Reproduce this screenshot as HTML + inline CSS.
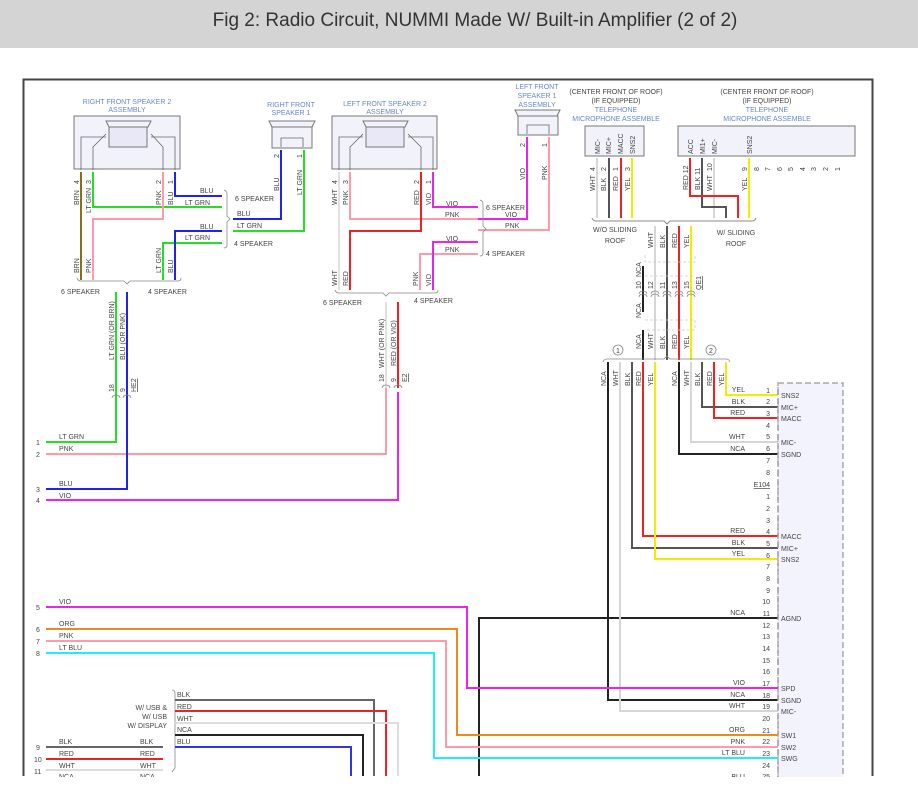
<!DOCTYPE html>
<html><head><meta charset="utf-8"><style>
body{margin:0;background:#fff;}
svg{display:block;font-family:"Liberation Sans",sans-serif;}
.t{font-size:7px;fill:#444;}
.b{font-size:7px;fill:#6a86c8;}
.w{fill:none;stroke-width:2;}
</style></head><body>
<svg width="918" height="808" viewBox="0 0 918 808">
<rect x="0" y="0" width="918" height="48" fill="#d4d4d4"/>
<text x="475" y="26" font-size="19" fill="#333" text-anchor="middle">Fig 2: Radio Circuit, NUMMI Made W/ Built-in Amplifier (2 of 2)</text>
<path d="M23.5 776V79.5H872.5V776" fill="none" stroke="#444" stroke-width="2"/>

<text class="b" x="127" y="104" text-anchor="middle">RIGHT FRONT SPEAKER 2</text>
<text class="b" x="127" y="112" text-anchor="middle">ASSEMBLY</text>
<rect x="74" y="116" width="106" height="53" fill="#f2f2fb" stroke="#777"/>
<path d="M106 121H151L148 127H109Z" fill="#f2f2fb" stroke="#777"/>
<rect x="109" y="127" width="38" height="20" fill="#e8e8f6" stroke="#777"/>
<path d="M81 170V137H106M93 170V147L106 134M163 170V147L151 134M175 170V137H151" fill="none" stroke="#666" stroke-width=".8"/>
<text class="b" x="385" y="106" text-anchor="middle">LEFT FRONT SPEAKER 2</text>
<text class="b" x="385" y="114" text-anchor="middle">ASSEMBLY</text>
<rect x="332" y="116" width="105" height="53" fill="#f2f2fb" stroke="#777"/>
<path d="M363 121H408L405 127H366Z" fill="#f2f2fb" stroke="#777"/>
<rect x="366" y="127" width="38" height="20" fill="#e8e8f6" stroke="#777"/>
<path d="M339 170V137H363M350 170V147L363 134M421 170V147L408 134M433 170V137H408" fill="none" stroke="#666" stroke-width=".8"/>
<text class="b" x="291" y="107" text-anchor="middle">RIGHT FRONT</text>
<text class="b" x="291" y="115" text-anchor="middle">SPEAKER 1</text>
<path d="M269 121H315L312 127H272Z" fill="#f2f2fb" stroke="#777"/>
<rect x="272" y="127" width="40" height="21" fill="#f2f2fb" stroke="#777"/>
<path d="M281 147V138H303V147" fill="none" stroke="#666" stroke-width=".8"/>
<text class="b" x="537" y="89" text-anchor="middle">LEFT FRONT</text>
<text class="b" x="537" y="98" text-anchor="middle">SPEAKER 1</text>
<text class="b" x="537" y="107" text-anchor="middle">ASSEMBLY</text>
<path d="M515 110H560L557 116H518Z" fill="#f2f2fb" stroke="#777"/>
<rect x="518" y="116" width="40" height="19" fill="#f2f2fb" stroke="#777"/>
<path d="M527 134V125H549V134" fill="none" stroke="#666" stroke-width=".8"/>

<g class="t" text-anchor="middle">
<text x="616" y="94">(CENTER FRONT OF ROOF)</text><text x="616" y="103">(IF EQUIPPED)</text>
<text x="767" y="94">(CENTER FRONT OF ROOF)</text><text x="767" y="103">(IF EQUIPPED)</text>
</g>
<g class="b" text-anchor="middle">
<text x="616" y="112">TELEPHONE</text><text x="616" y="121">MICROPHONE ASSEMBLE</text>
<text x="767" y="112">TELEPHONE</text><text x="767" y="121">MICROPHONE ASSEMBLE</text>
</g>
<rect x="585" y="126" width="59" height="30" fill="#f2f2fb" stroke="#777"/>
<rect x="678" y="126" width="177" height="30" fill="#f2f2fb" stroke="#777"/>
<g class="t" font-size="6">
<text transform="translate(600,154) rotate(-90)">MIC-</text>
<text transform="translate(611,154) rotate(-90)">MIC+</text>
<text transform="translate(623,154) rotate(-90)">MACC</text>
<text transform="translate(635,154) rotate(-90)">SNS2</text>
<text transform="translate(693,154) rotate(-90)">ACC</text>
<text transform="translate(705,154) rotate(-90)">MI1+</text>
<text transform="translate(717,154) rotate(-90)">MIC-</text>
<text transform="translate(752,154) rotate(-90)">SNS2</text>
<text transform="translate(595,171) rotate(-90)">4</text><text transform="translate(606,171) rotate(-90)">2</text>
<text transform="translate(618,171) rotate(-90)">1</text><text transform="translate(630,171) rotate(-90)">3</text>
<text transform="translate(688,190) rotate(-90)">RED 12</text><text transform="translate(700,190) rotate(-90)">BLK 11</text>
<text transform="translate(712,171) rotate(-90)">10</text><text transform="translate(747,171) rotate(-90)">9</text>
<text transform="translate(759,171) rotate(-90)">8</text><text transform="translate(770,171) rotate(-90)">7</text>
<text transform="translate(782,171) rotate(-90)">6</text><text transform="translate(793,171) rotate(-90)">5</text>
<text transform="translate(805,171) rotate(-90)">4</text><text transform="translate(816,171) rotate(-90)">3</text>
<text transform="translate(828,171) rotate(-90)">2</text><text transform="translate(840,171) rotate(-90)">1</text>
<text transform="translate(595,191) rotate(-90)">WHT</text><text transform="translate(606,191) rotate(-90)">BLK</text>
<text transform="translate(618,191) rotate(-90)">RED</text><text transform="translate(630,191) rotate(-90)">YEL</text>
<text transform="translate(712,191) rotate(-90)">WHT</text><text transform="translate(747,191) rotate(-90)">YEL</text>
</g>

<path class="w" stroke="#d6d6d6" d="M597 158V218M714 158V218"/>
<path class="w" stroke="#555" d="M609 158V218M702 158V207H726V218"/>
<path class="w" stroke="#ee2222" d="M621 158V218M690 158V196H738V218"/>
<path class="w" stroke="#eeee00" d="M632 158V218M749 158V218"/>
<path d="M592 218Q593 221 596 221H664L667 224L670 221H752Q755 221 756 218" fill="none" stroke="#888" stroke-width="1"/>
<g class="t" text-anchor="middle"><text x="615" y="232">W/O SLIDING</text><text x="615" y="243">ROOF</text>
<text x="736" y="235">W/ SLIDING</text><text x="736" y="246">ROOF</text></g>
<path class="w" stroke="#d6d6d6" d="M655 226V360"/>
<path class="w" stroke="#555" d="M667 226V360"/>
<path class="w" stroke="#ee2222" d="M679 226V360"/>
<path class="w" stroke="#eeee00" d="M691 226V360"/>
<path d="M643 266V312" stroke="#222" stroke-width="2"/>
<path d="M643 330V360" stroke="#222" stroke-width="2"/>
<path d="M645 255V262H695V255M645 276H695M645 320H695V330H645" fill="none" stroke="#ccc" stroke-width=".8" stroke-dasharray="3 2"/>
<g class="t" font-size="6">
<text transform="translate(653,248) rotate(-90)">WHT</text><text transform="translate(665,248) rotate(-90)">BLK</text>
<text transform="translate(677,248) rotate(-90)">RED</text><text transform="translate(689,248) rotate(-90)">YEL</text>
<text transform="translate(641,277) rotate(-90)">NCA</text><text transform="translate(641,318) rotate(-90)">NCA</text>
<text transform="translate(641,289) rotate(-90)">10</text><text transform="translate(653,289) rotate(-90)">12</text>
<text transform="translate(665,289) rotate(-90)">11</text><text transform="translate(677,289) rotate(-90)">13</text>
<text transform="translate(689,289) rotate(-90)">15</text><text transform="translate(701,290) rotate(-90)" text-decoration="underline">QE1</text>
<text transform="translate(641,349) rotate(-90)">NCA</text><text transform="translate(653,349) rotate(-90)">WHT</text>
<text transform="translate(665,349) rotate(-90)">BLK</text><text transform="translate(677,349) rotate(-90)">RED</text>
<text transform="translate(689,349) rotate(-90)">YEL</text>
</g>
<g fill="none" stroke="#888" stroke-width=".8">
<path d="M639 294a4 3 0 0 1 8 0M651 294a4 3 0 0 1 8 0M663 294a4 3 0 0 1 8 0M675 294a4 3 0 0 1 8 0M687 294a4 3 0 0 1 8 0"/>
<path d="M639 297a4 3 0 0 1 8 0M651 297a4 3 0 0 1 8 0M663 297a4 3 0 0 1 8 0M675 297a4 3 0 0 1 8 0M687 297a4 3 0 0 1 8 0"/>
<circle cx="618" cy="350" r="5"/><circle cx="711" cy="350" r="5"/>
<path d="M603 362Q604 359 607 359H664L667 356L670 359H726Q729 359 730 362"/>
</g>
<text x="618" y="353" font-size="7" text-anchor="middle" fill="#444">1</text>
<text x="711" y="353" font-size="7" text-anchor="middle" fill="#444">2</text>

<path class="w" stroke="#222" d="M608 362V700H778M679 362V454H778M479 776V618H778"/>
<path class="w" stroke="#d6d6d6" d="M620 362V711H778M691 362V442H778"/>
<path class="w" stroke="#555" d="M632 362V548H778M702 362V407H778"/>
<path class="w" stroke="#ee2222" d="M643 362V536H778M714 362V418H778"/>
<path class="w" stroke="#eeee00" d="M655 362V559H778M726 362V395H778"/>
<g class="t" font-size="6">
<text transform="translate(606,386) rotate(-90)">NCA</text><text transform="translate(618,386) rotate(-90)">WHT</text>
<text transform="translate(630,386) rotate(-90)">BLK</text><text transform="translate(641,386) rotate(-90)">RED</text>
<text transform="translate(653,386) rotate(-90)">YEL</text>
<text transform="translate(677,386) rotate(-90)">NCA</text><text transform="translate(689,386) rotate(-90)">WHT</text>
<text transform="translate(700,386) rotate(-90)">BLK</text><text transform="translate(712,386) rotate(-90)">RED</text>
<text transform="translate(724,386) rotate(-90)">YEL</text>
</g>

<rect x="778" y="383" width="65" height="400" fill="#f3f3fd" stroke="#aaa" stroke-width="1.5" stroke-dasharray="6 3"/>
<g class="t" text-anchor="end" font-size="6.5">
<text x="770" y="393">1</text><text x="770" y="404">2</text><text x="770" y="416">3</text><text x="770" y="428">4</text>
<text x="770" y="439">5</text><text x="770" y="451">6</text><text x="770" y="463">7</text><text x="770" y="475">8</text>
<text x="770" y="487" text-decoration="underline">E104</text>
<text x="770" y="499">1</text><text x="770" y="511">2</text><text x="770" y="523">3</text><text x="770" y="534">4</text>
<text x="770" y="546">5</text><text x="770" y="558">6</text><text x="770" y="569">7</text><text x="770" y="581">8</text>
<text x="770" y="593">9</text><text x="770" y="604">10</text><text x="770" y="616">11</text><text x="770" y="628">12</text>
<text x="770" y="639">13</text><text x="770" y="651">14</text><text x="770" y="663">15</text><text x="770" y="674">16</text>
<text x="770" y="686">17</text><text x="770" y="698">18</text><text x="770" y="709">19</text><text x="770" y="721">20</text>
<text x="770" y="733">21</text><text x="770" y="744">22</text><text x="770" y="756">23</text><text x="770" y="768">24</text>
<text x="770" y="779">25</text>
<text x="745" y="392">YEL</text><text x="745" y="404">BLK</text><text x="745" y="415">RED</text>
<text x="745" y="439">WHT</text><text x="745" y="451">NCA</text>
<text x="745" y="533">RED</text><text x="745" y="545">BLK</text><text x="745" y="556">YEL</text>
<text x="745" y="615">NCA</text><text x="745" y="685">VIO</text><text x="745" y="697">NCA</text>
<text x="745" y="708">WHT</text><text x="745" y="732">ORG</text><text x="745" y="744">PNK</text>
<text x="745" y="755">LT BLU</text><text x="745" y="779">BLU</text>
</g>
<g class="t" font-size="6.5">
<text x="781" y="398">SNS2</text><text x="781" y="410">MIC+</text><text x="781" y="421">MACC</text>
<text x="781" y="445">MIC-</text><text x="781" y="457">SGND</text>
<text x="781" y="539">MACC</text><text x="781" y="551">MIC+</text><text x="781" y="562">SNS2</text>
<text x="781" y="621">AGND</text><text x="781" y="691">SPD</text><text x="781" y="703">SGND</text>
<text x="781" y="714">MIC-</text><text x="781" y="738">SW1</text><text x="781" y="750">SW2</text><text x="781" y="761">SWG</text>
</g>
<g fill="none" stroke="#888" stroke-width=".8">
<path d="M778 387v8M778 399v8M778 410v8M778 422v8M778 434v8M778 446v8M778 457v8M778 469v8M778 481v8M778 493v8M778 505v8M778 517v8M778 528v8M778 540v8M778 552v8M778 563v8M778 575v8M778 587v8M778 598v8M778 610v8M778 622v8M778 633v8M778 645v8M778 657v8M778 668v8M778 680v8M778 692v8M778 703v8M778 715v8M778 727v8M778 738v8M778 750v8M778 762v8M778 773v8"/>
</g>

<path class="w" stroke="#8b6d1a" d="M81 172V280"/>
<path class="w" stroke="#22e022" d="M93 172V207H222M163 280V243H222M233 231H304V150M116 292V442H46"/>
<path class="w" stroke="#ff9aaa" d="M163 172V219H93V280M386 388V454H46"/>
<path class="w" stroke="#2222ee" d="M175 172V196H222M175 280V231H222M233 219H281V150M127 292V489H46"/>
<path class="w" stroke="#e0e0e0" d="M339 172V290M386 302V388"/>
<path class="w" stroke="#ff9aaa" d="M350 172V219H478M420 290V254H478M549 137V230H478"/>
<path class="w" stroke="#ee2222" d="M421 172V231H350V290M398 302V388"/>
<path class="w" stroke="#ee22ee" d="M433 172V207H478M433 290V242H478M527 137V219H478M398 392V500H46"/>
<g fill="none" stroke="#888" stroke-width=".8">
<path d="M224 190Q227 191 227 194V216L230 219L227 222V245Q227 248 224 248"/>
<path d="M480 200Q483 201 483 204V226L486 229L483 232V253Q483 256 480 256"/>
<path d="M77 278Q78 281 81 281H124L127 284L130 281H178Q181 281 181 278"/>
<path d="M335 290Q336 293 339 293H383L386 296L389 293H435Q438 293 438 290"/>
<path d="M112 398a4 3 0 0 1 8 0M123 398a4 3 0 0 1 8 0M382 388a4 3 0 0 1 8 0M394 388a4 3 0 0 1 8 0"/>
<path d="M172 690Q175 690 175 693V768L172 772"/>
</g>
<g class="t">
<text x="200" y="193">BLU</text><text x="185" y="205">LT GRN</text><text x="235" y="201">6 SPEAKER</text>
<text x="237" y="216">BLU</text><text x="237" y="228">LT GRN</text>
<text x="200" y="229">BLU</text><text x="185" y="240">LT GRN</text><text x="234" y="246">4 SPEAKER</text>
<text x="61" y="294">6 SPEAKER</text><text x="148" y="294">4 SPEAKER</text>
<text x="446" y="206">VIO</text><text x="445" y="217">PNK</text><text x="486" y="210">6 SPEAKER</text>
<text x="505" y="217">VIO</text><text x="505" y="228">PNK</text>
<text x="446" y="241">VIO</text><text x="445" y="252">PNK</text><text x="486" y="256">4 SPEAKER</text>
<text x="323" y="305">6 SPEAKER</text><text x="414" y="303">4 SPEAKER</text>
<text x="59" y="439">LT GRN</text><text x="59" y="451">PNK</text><text x="59" y="486">BLU</text><text x="59" y="498">VIO</text>
<text x="36" y="445">1</text><text x="36" y="457">2</text><text x="36" y="492">3</text><text x="36" y="503">4</text>
<text x="36" y="610">5</text><text x="36" y="632">6</text><text x="36" y="644">7</text><text x="36" y="656">8</text>
<text x="59" y="604">VIO</text><text x="59" y="626">ORG</text><text x="59" y="638">PNK</text><text x="59" y="650">LT BLU</text>
<text x="36" y="750">9</text><text x="34" y="762">10</text><text x="34" y="774">11</text>
<text x="59" y="744">BLK</text><text x="59" y="756">RED</text><text x="59" y="768">WHT</text><text x="59" y="779">NCA</text>
<text x="140" y="744">BLK</text><text x="140" y="756">RED</text><text x="140" y="768">WHT</text><text x="140" y="779">NCA</text>
<text x="177" y="697">BLK</text><text x="177" y="709">RED</text><text x="177" y="721">WHT</text>
<text x="177" y="732">NCA</text><text x="177" y="744">BLU</text>
<text x="167" y="710" text-anchor="end">W/ USB &amp;</text><text x="167" y="719" text-anchor="end">W/ USB</text>
<text x="167" y="728" text-anchor="end">W/ DISPLAY</text>
</g>
<g class="t" font-size="6.5">
<text transform="translate(79,184) rotate(-90)">4</text><text transform="translate(91,184) rotate(-90)">3</text>
<text transform="translate(161,184) rotate(-90)">2</text><text transform="translate(173,184) rotate(-90)">1</text>
<text transform="translate(79,205) rotate(-90)">BRN</text><text transform="translate(91,213) rotate(-90)">LT GRN</text>
<text transform="translate(161,205) rotate(-90)">PNK</text><text transform="translate(173,205) rotate(-90)">BLU</text>
<text transform="translate(79,273) rotate(-90)">BRN</text><text transform="translate(91,273) rotate(-90)">PNK</text>
<text transform="translate(161,273) rotate(-90)">LT GRN</text><text transform="translate(173,273) rotate(-90)">BLU</text>
<text transform="translate(279,158) rotate(-90)">2</text><text transform="translate(302,158) rotate(-90)">1</text>
<text transform="translate(279,191) rotate(-90)">BLU</text><text transform="translate(302,195) rotate(-90)">LT GRN</text>
<text transform="translate(337,184) rotate(-90)">4</text><text transform="translate(348,184) rotate(-90)">3</text>
<text transform="translate(419,184) rotate(-90)">2</text><text transform="translate(431,184) rotate(-90)">1</text>
<text transform="translate(337,205) rotate(-90)">WHT</text><text transform="translate(348,205) rotate(-90)">PNK</text>
<text transform="translate(419,205) rotate(-90)">RED</text><text transform="translate(431,205) rotate(-90)">VIO</text>
<text transform="translate(337,286) rotate(-90)">WHT</text><text transform="translate(348,286) rotate(-90)">RED</text>
<text transform="translate(418,286) rotate(-90)">PNK</text><text transform="translate(431,286) rotate(-90)">VIO</text>
<text transform="translate(525,147) rotate(-90)">2</text><text transform="translate(547,147) rotate(-90)">1</text>
<text transform="translate(525,180) rotate(-90)">VIO</text><text transform="translate(547,180) rotate(-90)">PNK</text>
<text transform="translate(114,360) rotate(-90)">LT GRN    (OR BRN)</text>
<text transform="translate(125,360) rotate(-90)">BLU    (OR PNK)</text>
<text transform="translate(114,392) rotate(-90)">18</text><text transform="translate(125,392) rotate(-90)">9</text>
<text transform="translate(136,392) rotate(-90)" text-decoration="underline">HE2</text>
<text transform="translate(384,368) rotate(-90)">WHT    (OR PNK)</text>
<text transform="translate(396,366) rotate(-90)">RED    (OR VIO)</text>
<text transform="translate(384,382) rotate(-90)">18</text><text transform="translate(396,382) rotate(-90)">9</text>
<text transform="translate(407,382) rotate(-90)" text-decoration="underline">E2</text>
</g>

<path class="w" stroke="#ee22ee" d="M46 607H467V688H778"/>
<path class="w" stroke="#ee8a1a" d="M46 629H457V735H778"/>
<path class="w" stroke="#ff9aaa" d="M46 641H446V747H778"/>
<path class="w" stroke="#22eeee" d="M46 653H434V758H778"/>
<path class="w" stroke="#666" d="M46 747H163M175 700H374V776"/>
<path class="w" stroke="#ee2222" d="M46 759H163M175 711H386V776"/>
<path class="w" stroke="#dddddd" d="M46 770H163M175 723H398V776"/>
<path class="w" stroke="#222" d="M175 735H363V776"/>
<path class="w" stroke="#3333ee" d="M175 747H351V776"/>
<rect x="0" y="777" width="918" height="31" fill="#fff"/>
</svg>
</body></html>
